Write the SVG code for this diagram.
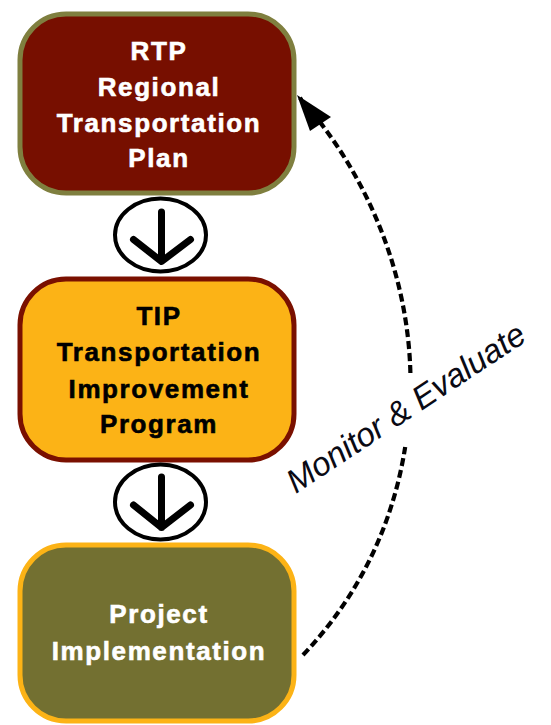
<svg xmlns="http://www.w3.org/2000/svg" width="551" height="725" viewBox="0 0 551 725">
<style>
.box{stroke-width:5}
.lbl{font-family:"Liberation Sans",Arial,sans-serif;font-weight:bold;font-size:26px;letter-spacing:1.6px;text-anchor:middle;stroke-width:0.6px}
.w{fill:#ffffff;stroke:#ffffff}
.k{fill:#000000;stroke:#000000}
.ring{fill:#ffffff;stroke:#000000;stroke-width:4}
.down{fill:none;stroke:#000000;stroke-width:7;stroke-linecap:round;stroke-linejoin:round}
.arc{fill:none;stroke:#000000;stroke-width:4.2;stroke-dasharray:8 4}
.me{font-family:"Liberation Sans",Arial,sans-serif;font-style:italic;font-size:33px;fill:#0a0a14;text-anchor:middle}
</style>
<rect width="551" height="725" fill="#ffffff"/>
<g id="rtp">
<rect class="box" x="20" y="14" width="274" height="179" rx="46" fill="#770f00" stroke="#7f7f3f"/>
<text class="lbl w" x="159" y="60">RTP</text>
<text class="lbl w" x="159" y="96">Regional</text>
<text class="lbl w" x="159" y="131.5">Transportation</text>
<text class="lbl w" x="159" y="167">Plan</text>
</g>
<g id="tip">
<rect class="box" x="20" y="279" width="274" height="181" rx="46" fill="#fcb316" stroke="#7a1000"/>
<text class="lbl k" x="159" y="325">TIP</text>
<text class="lbl k" x="159" y="361">Transportation</text>
<text class="lbl k" x="159" y="397.5">Improvement</text>
<text class="lbl k" x="159" y="433">Program</text>
</g>
<g id="impl">
<rect class="box" x="20" y="545" width="274" height="176" rx="46" fill="#737031" stroke="#fcb316"/>
<text class="lbl w" x="159" y="623">Project</text>
<text class="lbl w" x="159" y="660">Implementation</text>
</g>
<g id="connectors">
<g id="down1">
<ellipse class="ring" cx="160.5" cy="235" rx="45.5" ry="36.5"/>
<path class="down" d="M161.5,212 V261 M133.5,239.5 L161.5,261.5 L190.5,239.5"/>
</g>
<g id="down2">
<ellipse class="ring" cx="160.5" cy="502" rx="45.5" ry="37.5"/>
<path class="down" d="M161.5,477 V527.5 M133.5,505 L161.5,527.5 L190.5,505"/>
</g>
<g id="monitor">
<path class="arc" d="M303,655 C359.6,595.4 393,524.2 405.2,447"/>
<path class="arc" d="M410.4,373 C408,275.5 369,175.5 300,98"/>
<polygon points="297,95 331,117 310,131" fill="#000000"/>
<text class="me" x="412" y="417" transform="rotate(-33.5 412 417)">Monitor &amp; Evaluate</text>
</g>
</g>
</svg>
